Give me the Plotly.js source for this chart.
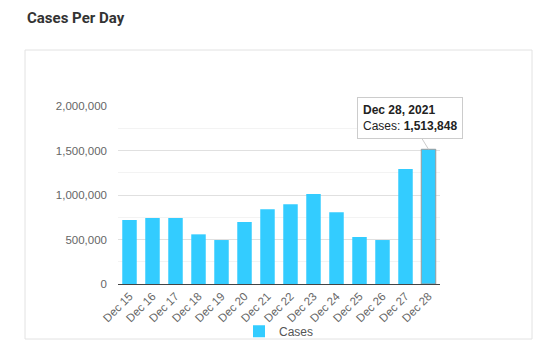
<!DOCTYPE html>
<html>
<head>
<meta charset="utf-8">
<script src="https://cdn.plot.ly/plotly-3.0.1.min.js"></script>
<style>html,body{margin:0;padding:0;background:#fff;}#chart{width:546px;height:354px;}</style>
</head>
<body>
<div id="chart"></div>
<script>
const categories = ["Dec 15","Dec 16","Dec 17","Dec 18","Dec 19","Dec 20","Dec 21","Dec 22","Dec 23","Dec 24","Dec 25","Dec 26","Dec 27","Dec 28"];
const cases = [720000, 742000, 742000, 558000, 494000, 697000, 839000, 895000, 1011000, 805000, 528000, 494000, 1292000, 1513848];
const seriesName = "Cases";
const tooltipDate = "Dec 28, 2021";
const yTickVals = [0, 500000, 1000000, 1500000, 2000000];

const lastIdx = cases.length - 1;
const lineColors = cases.map((v, i) => i === lastIdx ? "#9a9a9a" : "rgba(0,0,0,0)");
const lineWidths = cases.map((v, i) => i === lastIdx ? 1 : 0);

const trace = {
  type: "bar",
  x: categories,
  y: cases,
  name: seriesName,
  marker: { color: "#33ccff", line: { color: lineColors, width: lineWidths } },
  showlegend: true,
  hoverinfo: "none"
};

const layout = {
  width: 546, height: 354,
  margin: { l: 118, r: 106, t: 106, b: 70, autoexpand: false },
  paper_bgcolor: "#fff", plot_bgcolor: "#fff",
  font: { family: "Liberation Sans, Arial, sans-serif", color: "#666", size: 11 },
  title: {
    text: "<b>Cases Per Day</b>",
    xref: "container", yref: "container",
    x: 27/546, xanchor: "left",
    y: 1 - 18/354, yanchor: "middle",
    font: { family: "Roboto, sans-serif", size: 15, color: "#333" }
  },
  bargap: 0.37,
  xaxis: {
    type: "category",
    automargin: false,
    range: [-0.5, categories.length - 0.5],
    tickangle: -45,
    showline: true, linecolor: "#444", linewidth: 1,
    showgrid: false, ticks: "",
    tickfont: { size: 11.5, color: "#666" },
    fixedrange: true
  },
  yaxis: {
    automargin: false,
    range: [0, 2000000],
    tickvals: yTickVals,
    tickformat: ",d",
    showgrid: true, gridcolor: "#e0e0e0", gridwidth: 1,
    zeroline: false,
    minor: { dtick: 250000, showgrid: true, gridcolor: "#f3f3f3", gridwidth: 1 },
    ticks: "", ticklabelstandoff: 10,
    tickfont: { size: 11.5, color: "#666" },
    fixedrange: true
  },
  showlegend: true,
  legend: {
    orientation: "h", x: 0.5, xanchor: "center", y: -0.265, yanchor: "middle",
    bgcolor: "rgba(0,0,0,0)",
    font: { size: 12, color: "#555" }
  },
  shapes: [{
    type: "rect", xref: "paper", yref: "paper",
    x0: (25-118)/322, x1: (532-118)/322,
    y0: (284-339)/178, y1: (284-50)/178,
    line: { color: "#e2e2e2", width: 1 },
    fillcolor: "rgba(0,0,0,0)", layer: "below"
  }],
  annotations: [{
    x: categories[lastIdx], y: cases[lastIdx],
    xref: "x", yref: "y",
    text: "<b>" + tooltipDate + "</b><br>" + seriesName + ": <b>" + cases[lastIdx].toLocaleString("en-US") + "</b>",
    align: "left",
    showarrow: true, arrowhead: 0, arrowcolor: "#cccccc", arrowwidth: 1,
    ax: -19, ay: -31,
    bgcolor: "#ffffff", bordercolor: "#cccccc", borderwidth: 1, borderpad: 5,
    font: { family: "Liberation Sans, Arial, sans-serif", size: 12, color: "#222" }
  }]
};

Plotly.newPlot("chart", [trace], layout, { displayModeBar: false, staticPlot: true });
</script>
</body>
</html>
